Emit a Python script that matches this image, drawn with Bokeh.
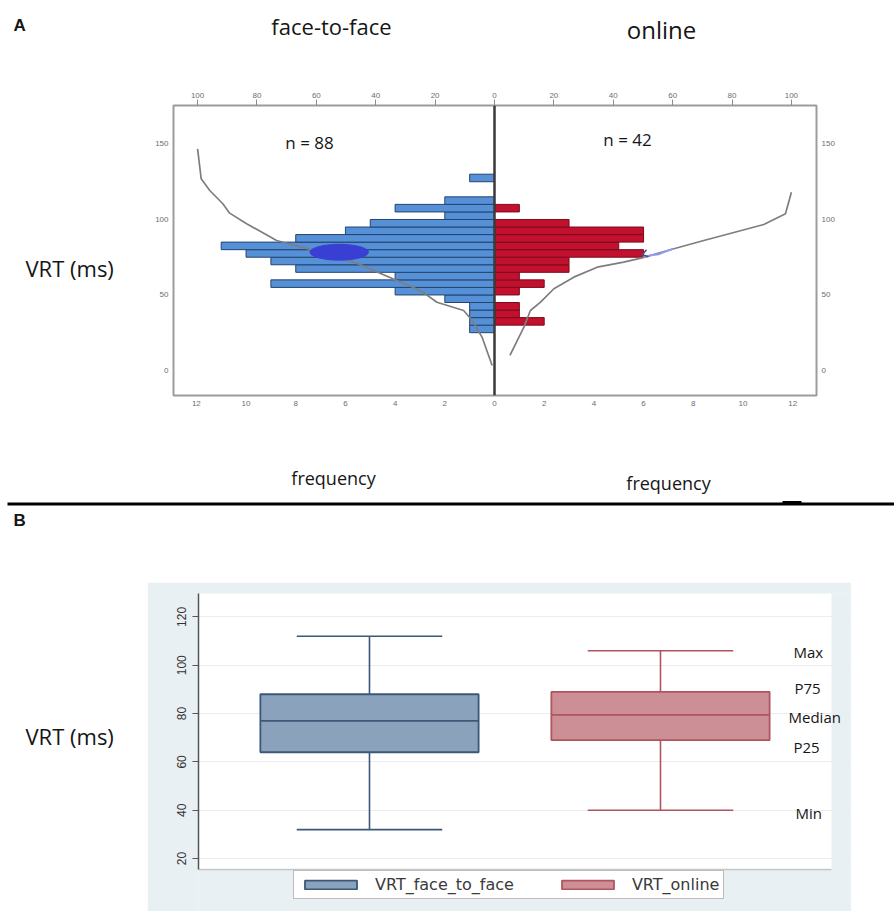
from bokeh.plotting import figure
from bokeh.models import (Range1d, LinearAxis, FixedTicker, Label, Span, BoxAnnotation,
                          Legend, LegendItem, ColumnDataSource, CustomJSTickFormatter)
from bokeh.transform import dodge
from bokeh.layouts import column, row
from bokeh.embed import file_html
from bokeh.resources import INLINE

# ---------------- Panel A data ----------------
bin_lower = [25, 30, 35, 40, 45, 50, 55, 60, 65, 70, 75, 80, 85, 90, 95, 100, 105, 110, 115, 120, 125]
bin_width = 5
f2f_counts = [1, 1, 1, 1, 2, 4, 9, 4, 8, 9, 10, 11, 8, 6, 5, 2, 4, 2, 0, 0, 1]
online_counts = [0, 2, 1, 1, 0, 1, 2, 1, 3, 3, 6, 5, 6, 6, 3, 0, 1, 0, 0, 0, 0]
n_f2f = 88
n_online = 42

f2f_cum_vrt = [3.3, 22.1, 33.1, 39.7, 45.2, 53.0, 59.6, 71.1, 79.5, 86.1, 97.2, 104.2, 110.4, 119.2, 127.0, 146.8]
f2f_cum_pct = [0.8, 4.2, 7.5, 10.4, 19.4, 25.0, 32.9, 46.4, 61.0, 73.4, 83.5, 89.2, 91.5, 95.9, 98.8, 100.0]
online_cum_vrt = [9.9, 28.7, 39.7, 45.2, 54.1, 61.8, 68.4, 71.7, 74.6, 80.6, 86.1, 96.7, 103.8, 118.1]
online_cum_pct = [5.2, 9.9, 12.1, 15.5, 20.0, 26.7, 34.6, 43.5, 49.7, 60.4, 70.5, 90.7, 98.0, 100.0]

# hand-drawn marks on the figure
f2f_mark_x, f2f_mark_y = [-6.25], [78.3]
online_mark_x = [6.0, 6.3, 6.6, 6.9, 7.2]
online_mark_y = [75.0, 76.3, 77.0, 78.9, 80.6]
online_tick_x = [6.12, 5.95, 6.2]
online_tick_y = [80.0, 76.6, 75.3]

freq_ticks = [-12, -10, -8, -6, -4, -2, 0, 2, 4, 6, 8, 10, 12]
pct_ticks = [-100, -80, -60, -40, -20, 0, 20, 40, 60, 80, 100]
vrt_ticks_a = [0, 50, 100, 150]

# ---------------- Panel B data ----------------
groups = ["VRT_face_to_face", "VRT_online"]
vrt_min = [32, 40]
vrt_p25 = [64, 69]
vrt_median = [77, 79.5]
vrt_p75 = [88, 89]
vrt_max = [112, 106]
vrt_ticks_b = [20, 40, 60, 80, 100, 120]
stat_labels = ["Max", "P75", "Median", "P25", "Min"]

FONT = "Open Sans"
TXT = "#161616"
PANEL_BG = "#e8f0f3"


def label(p, text, x, y, size, align="center", bold=False, font=FONT, color=TXT,
          x_units="data", y_units="data"):
    p.add_layout(Label(x=x, y=y, x_units=x_units, y_units=y_units, text=text,
                       text_font=font, text_font_size=f"{size}px", text_align=align,
                       text_baseline="middle", text_color=color,
                       text_font_style="bold" if bold else "normal"))


def text_fig(w, h, bg="white"):
    """A blank canvas whose data units are its own pixels (y downward)."""
    f = figure(width=w, height=h, x_range=Range1d(0, w), y_range=Range1d(h, 0),
               toolbar_location=None, output_backend="svg", min_border=0,
               x_axis_location=None, y_axis_location=None, outline_line_color=None,
               background_fill_color=bg, border_fill_color=bg, frame_align=False)
    f.grid.visible = False
    return f


# ================= header =================
hdr = text_fig(894, 60)
label(hdr, "A", 13, 25, 17, align="left", bold=True, font="Liberation Sans")
label(hdr, "face-to-face", 331, 25, 22)
label(hdr, "online", 661, 29, 24)

# ================= Panel A =================
leftA = text_fig(140, 360)
label(leftA, "VRT (ms)", 25, 207, 22, align="left")

FREQ_PER_100PCT = 11.95
x_lo, x_hi = -12.92, 12.96
pA = figure(width=754, height=360, x_range=Range1d(x_lo, x_hi), y_range=Range1d(-16.6, 175.5),
            toolbar_location=None, output_backend="svg", frame_align=False,
            min_border_left=33, min_border_right=78, min_border_top=45, min_border_bottom=25,
            outline_line_color="#9c9c9c", outline_line_width=2,
            background_fill_color="white", border_fill_color="white")
pA.grid.visible = False
pA.extra_x_ranges = {"pct": Range1d(x_lo * 100 / FREQ_PER_100PCT, x_hi * 100 / FREQ_PER_100PCT)}

abs_fmt = CustomJSTickFormatter(code="return String(Math.abs(tick));")
pA.xaxis.ticker = FixedTicker(ticks=freq_ticks)
pA.xaxis.formatter = abs_fmt
pA.yaxis.ticker = FixedTicker(ticks=vrt_ticks_a)
top_ax = LinearAxis(x_range_name="pct", ticker=FixedTicker(ticks=pct_ticks), formatter=abs_fmt)
pA.add_layout(top_ax, "above")
right_ax = LinearAxis(ticker=FixedTicker(ticks=vrt_ticks_a))
pA.add_layout(right_ax, "right")

for ax in pA.axis:
    ax.axis_line_color = None
    ax.major_tick_in = 0
    ax.major_tick_out = 0
    ax.major_tick_line_color = "#8c8c8c"
    ax.minor_tick_line_color = None
    ax.major_label_text_font = "Liberation Sans"
    ax.major_label_text_font_size = "8px"
    ax.major_label_text_color = "#6e6e6e"
    ax.major_label_standoff = 5
top_ax.major_tick_out = 6
top_ax.major_label_standoff = 2

yc = [lo + bin_width / 2 for lo in bin_lower]
f2f_src = ColumnDataSource(dict(y=[y for y, c in zip(yc, f2f_counts) if c > 0],
                                r=[-c for c in f2f_counts if c > 0]))
on_src = ColumnDataSource(dict(y=[y for y, c in zip(yc, online_counts) if c > 0],
                               r=[c for c in online_counts if c > 0]))
pA.hbar(y="y", left=0, right="r", height=bin_width, source=f2f_src,
        fill_color="#5690d7", line_color="#23446f", line_width=1)
pA.hbar(y="y", left=0, right="r", height=bin_width, source=on_src,
        fill_color="#c2112f", line_color="#7c0a1d", line_width=1)

pA.add_layout(Span(location=0, dimension="height", line_color="#3a3a3a", line_width=2.5))

pA.line(x=[-v for v in f2f_cum_pct], y=f2f_cum_vrt, x_range_name="pct",
        line_color="#7e7e7e", line_width=1.7)
pA.line(x=online_cum_pct, y=online_cum_vrt, x_range_name="pct",
        line_color="#7e7e7e", line_width=1.7)

pA.ellipse(x=f2f_mark_x, y=f2f_mark_y, width=2.35, height=10.5,
           fill_color="#3a3fd4", line_color="#3a3fd4")
pA.line(x=online_mark_x, y=online_mark_y, line_color="#8f9cf0", line_width=2)
pA.line(x=online_tick_x, y=online_tick_y, line_color="#4b4f8c", line_width=1.5)

# sample sizes inside the frame (frame left 173 / bottom 395 on the page)
label(pA, f"n = {n_f2f}", 136, 253, 17, x_units="screen", y_units="screen")
label(pA, f"n = {n_online}", 454, 256, 17, x_units="screen", y_units="screen")

# ================= footer of A / header of B =================
mid = text_fig(894, 162)
label(mid, "frequency", 333, 57, 18)
label(mid, "frequency", 668, 62, 18)
mid.add_layout(BoxAnnotation(left=7, right=894, top=82, bottom=85, fill_color="black",
                             fill_alpha=1, line_color=None))
mid.add_layout(BoxAnnotation(left=782, right=801, top=80.5, bottom=83, fill_color="black",
                             fill_alpha=1, line_color=None))
label(mid, "B", 13, 100, 17, align="left", bold=True, font="Liberation Sans")

# ================= Panel B =================
leftB = text_fig(147, 329)
label(leftB, "VRT (ms)", 25, 153, 22, align="left")

# frame covers the grey-blue graph region right of the y axis, down to the page bottom
xb_lo, xb_plot_hi, xb_hi = -0.5876, 1.5876, 1.6564
yb_lo, yb_plot_lo, yb_hi = -1.9, 15.45, 129.7
pB = figure(width=704, height=329, x_range=Range1d(xb_lo, xb_hi), y_range=Range1d(yb_lo, yb_hi),
            toolbar_location=None, output_backend="svg", frame_align=False,
            x_axis_location=None,
            min_border_left=51, min_border_right=0, min_border_top=11, min_border_bottom=0,
            outline_line_color=None, background_fill_color=PANEL_BG,
            border_fill_color=PANEL_BG)
# white plot region
pB.add_layout(BoxAnnotation(right=xb_plot_hi, bottom=yb_plot_lo, fill_color="white", fill_alpha=1,
                            line_color=None, level="image"))
pB.xgrid.visible = False
pB.ygrid.ticker = FixedTicker(ticks=vrt_ticks_b)
pB.ygrid.grid_line_color = "#ececec"
pB.yaxis.ticker = FixedTicker(ticks=vrt_ticks_b)
pB.yaxis.bounds = (yb_plot_lo, yb_hi)
pB.yaxis.major_label_orientation = "vertical"
pB.yaxis.major_label_text_font = "Liberation Sans"
pB.yaxis.major_label_text_font_size = "12px"
pB.yaxis.major_label_text_color = "#333333"
pB.yaxis.major_tick_in = 0
pB.yaxis.major_tick_out = 6
pB.yaxis.major_label_standoff = 6
pB.yaxis.minor_tick_line_color = None
pB.yaxis.axis_line_color = "#555555"
pB.yaxis.axis_line_width = 1.5
pB.yaxis.major_tick_line_color = "#555555"
# x axis line (no ticks, no labels)
pB.add_layout(BoxAnnotation(right=xb_plot_hi, bottom=yb_plot_lo, top=yb_plot_lo,
                            fill_color=None, line_color="#555555", line_width=1.5))

box_src = ColumnDataSource(dict(x=list(range(len(groups))), lo=vrt_min, q1=vrt_p25,
                                med=vrt_median, q3=vrt_p75, hi=vrt_max,
                                fill=["#8ba2bd", "#cc8f96"], line=["#3b5878", "#b0555f"]))
pB.segment(x0="x", y0="q3", x1="x", y1="hi", line_color="line", line_width=1.6, source=box_src)
pB.segment(x0="x", y0="q1", x1="x", y1="lo", line_color="line", line_width=1.6, source=box_src)
pB.segment(x0=dodge("x", -0.25), y0="hi", x1=dodge("x", 0.25), y1="hi",
           line_color="line", line_width=1.6, source=box_src)
pB.segment(x0=dodge("x", -0.25), y0="lo", x1=dodge("x", 0.25), y1="lo",
           line_color="line", line_width=1.6, source=box_src)
boxes = pB.vbar(x="x", bottom="q1", top="q3", width=0.75, fill_color="fill",
                line_color="line", line_width=1.8, source=box_src)
pB.segment(x0=dodge("x", -0.375), y0="med", x1=dodge("x", 0.375), y1="med",
           line_color="line", line_width=1.8, source=box_src)

legend = Legend(items=[LegendItem(label=g, renderers=[boxes], index=i) for i, g in enumerate(groups)],
                location=(95, 12), orientation="horizontal", glyph_width=65, glyph_height=11,
                label_standoff=12, spacing=41, padding=4, margin=0, label_height=12,
                label_text_font="DejaVu Sans", label_text_font_size="16px",
                label_text_color="#3a3a3a", border_line_color="#7a7a7a", border_line_width=1.5,
                background_fill_color="white", background_fill_alpha=1)
pB.add_layout(legend)

stat_y = [105.4, 90.5, 78.5, 66.1, 38.8]
stat_x = [595, 596, 590, 595, 597]
for t, sx, sy in zip(stat_labels, stat_x, stat_y):
    label(pB, t, sx, sy, 15, align="left", x_units="screen")

layout = column(hdr, row(leftA, pA, spacing=0), mid, row(leftB, pB, spacing=0), spacing=0)
open("out.html", "w").write(file_html(layout, INLINE))
